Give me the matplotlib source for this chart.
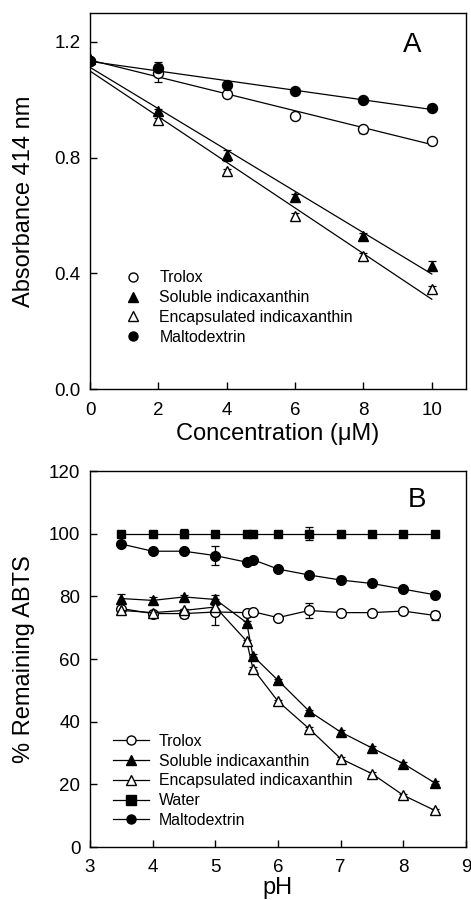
import numpy as np
import matplotlib
matplotlib.use("Agg")
import matplotlib.pyplot as plt
from matplotlib.lines import Line2D

plt.rcParams['font.family'] = ['Liberation Sans', 'DejaVu Sans']

# ---------------- Panel A data ----------------
conc = [0, 2, 4, 6, 8, 10]
trolox_a = [1.135, 1.093, 1.019, 0.944, 0.898, 0.858]
trolox_a_err = [0.005, 0.030, 0.008, 0.008, 0.012, 0.008]
soluble_a = [1.14, 0.960, 0.808, 0.665, 0.530, 0.426]
soluble_a_err = [0.005, 0.008, 0.020, 0.008, 0.008, 0.015]
encaps_a = [1.14, 0.929, 0.753, 0.599, 0.461, 0.347]
encaps_a_err = [0.005, 0.008, 0.008, 0.008, 0.008, 0.008]
malto_a = [1.135, 1.110, 1.050, 1.031, 0.998, 0.973]
malto_a_err = [0.005, 0.020, 0.008, 0.005, 0.005, 0.008]

# ---------------- Panel B data ----------------
ph = [3.5, 4, 4.5, 5, 5.5, 5.6, 6, 6.5, 7, 7.5, 8, 8.5]
trolox_b = [76.1, 74.5, 74.5, 75.0, 74.8, 75.1, 73.2, 75.5, 74.8, 74.8, 75.3, 73.9]
trolox_b_err = [0.5, 0.5, 1.5, 4.0, 0.5, 0.5, 0.5, 2.5, 0.5, 0.5, 0.5, 1.5]
soluble_b = [79.3, 78.7, 79.8, 79.0, 71.6, 61.0, 53.2, 43.3, 36.7, 31.6, 26.6, 20.5]
soluble_b_err = [1.5, 1.0, 0.5, 1.5, 0.5, 0.5, 0.5, 0.5, 0.5, 0.5, 0.5, 0.5]
encaps_b = [75.5, 74.8, 75.5, 76.6, 65.7, 56.9, 46.5, 37.7, 28.2, 23.4, 16.5, 11.7]
encaps_b_err = [0.5, 0.5, 0.5, 0.5, 0.5, 0.5, 0.5, 0.5, 0.5, 0.5, 0.5, 0.5]
water_b = [100, 100, 100, 100, 100, 100, 100, 100, 100, 100, 100, 100]
water_b_err = [0.5, 0.5, 1.5, 0.5, 0.5, 0.5, 0.5, 2.0, 0.5, 0.5, 0.5, 0.5]
malto_b = [96.7, 94.4, 94.4, 93.0, 90.9, 91.7, 88.7, 86.8, 85.2, 84.1, 82.3, 80.5]
malto_b_err = [0.5, 0.5, 0.5, 3.0, 0.5, 0.5, 0.5, 0.5, 1.0, 0.5, 0.5, 0.5]

labels_a = ['Trolox', 'Soluble indicaxanthin', 'Encapsulated indicaxanthin', 'Maltodextrin']
labels_b = ['Trolox', 'Soluble indicaxanthin', 'Encapsulated indicaxanthin', 'Water', 'Maltodextrin']

W, H = 471, 900
fig = plt.figure(figsize=(W / 100, H / 100), dpi=100)

def px_axes(left, top, right, bottom):
    return fig.add_axes([left / W, 1 - bottom / H, (right - left) / W, (bottom - top) / H])

LW = 0.9
TICKFS = 13.5
LABFS = 17
LEGFS = 11.4

def style(ax):
    for s in ax.spines.values():
        s.set_linewidth(1.0)
    ax.tick_params(direction='in', length=5, width=1.0, labelsize=TICKFS,
                   top=False, right=False)
    ax.tick_params(axis='x', pad=9)
    ax.tick_params(axis='y', pad=7)

# ---------------- Panel A ----------------
axA = px_axes(90, 13, 466, 389)
styleA = [
    (trolox_a, trolox_a_err, 'o', 'white', 7.2),
    (soluble_a, soluble_a_err, '^', 'black', 7.0),
    (encaps_a, encaps_a_err, '^', 'white', 7.0),
    (malto_a, malto_a_err, 'o', 'black', 7.2),
]
xfit = np.array([0, 10])
for vals, err, m, fc, ms in styleA:
    coef = np.polyfit(conc, vals, 1)
    axA.plot(xfit, np.polyval(coef, xfit), color='black', lw=LW, zorder=2)
for vals, err, m, fc, ms in styleA:
    axA.errorbar(conc, vals, yerr=err, fmt='none', ecolor='black', elinewidth=LW,
                 capsize=3, capthick=LW, zorder=3)
    axA.plot(conc, vals, linestyle='none', marker=m, markersize=ms,
             markerfacecolor=fc, markeredgecolor='black', markeredgewidth=1.0, zorder=4)
axA.set_xlim(0, 11)
axA.set_ylim(0, 1.3)
axA.set_xticks([0, 2, 4, 6, 8, 10])
axA.set_yticks([0.0, 0.4, 0.8, 1.2])
axA.set_yticklabels(['0.0', '0.4', '0.8', '1.2'])
style(axA)
axA.set_xlabel('Concentration (\u03bcM)', fontsize=LABFS, labelpad=3)
axA.set_ylabel('Absorbance 414 nm', fontsize=LABFS, labelpad=14)
axA.text(0.856, 0.915, 'A', transform=axA.transAxes, fontsize=20, ha='center', va='center')

handlesA = [Line2D([], [], linestyle='none', marker=m, markersize=6.5,
                   markerfacecolor=fc, markeredgecolor='black', markeredgewidth=1.0)
            for _, _, m, fc, _ in styleA]
axA.legend(handlesA, labels_a, loc='upper left', bbox_to_anchor=(123 / W, 1 - 270.5 / H),
           bbox_transform=fig.transFigure, frameon=False, fontsize=LEGFS,
           handlelength=1.2, handletextpad=1.1, labelspacing=0.3, borderpad=0,
           borderaxespad=0)

# ---------------- Panel B ----------------
axB = px_axes(90, 471, 466, 847)
styleB = [
    (trolox_b, trolox_b_err, 'o', 'white', 7.0),
    (soluble_b, soluble_b_err, '^', 'black', 7.0),
    (encaps_b, encaps_b_err, '^', 'white', 7.0),
    (water_b, water_b_err, 's', 'black', 6.3),
    (malto_b, malto_b_err, 'o', 'black', 7.0),
]
for vals, err, m, fc, ms in styleB:
    axB.errorbar(ph, vals, yerr=err, fmt='none', ecolor='black', elinewidth=LW,
                 capsize=3, capthick=LW, zorder=3)
    axB.plot(ph, vals, color='black', lw=LW, marker=m, markersize=ms,
             markerfacecolor=fc, markeredgecolor='black', markeredgewidth=1.0, zorder=4)
axB.set_xlim(3, 9)
axB.set_ylim(0, 120)
axB.set_xticks([3, 4, 5, 6, 7, 8, 9])
axB.set_yticks([0, 20, 40, 60, 80, 100, 120])
style(axB)
axB.set_xlabel('pH', fontsize=LABFS, labelpad=0.5)
axB.set_ylabel('% Remaining ABTS', fontsize=LABFS, labelpad=10)
axB.text(0.87, 0.923, 'B', transform=axB.transAxes, fontsize=20, ha='center', va='center')

handlesB = [Line2D([], [], color='black', lw=LW, marker=m, markersize=6.5,
                   markerfacecolor=fc, markeredgecolor='black', markeredgewidth=1.0)
            for _, _, m, fc, _ in styleB]
axB.legend(handlesB, labels_b, loc='upper left', bbox_to_anchor=(113 / W, 1 - 734 / H),
           bbox_transform=fig.transFigure, frameon=False, fontsize=LEGFS,
           handlelength=2.3, handletextpad=0.6, labelspacing=0.3, borderpad=0,
           borderaxespad=0)

fig.savefig('out.png', dpi=100)
